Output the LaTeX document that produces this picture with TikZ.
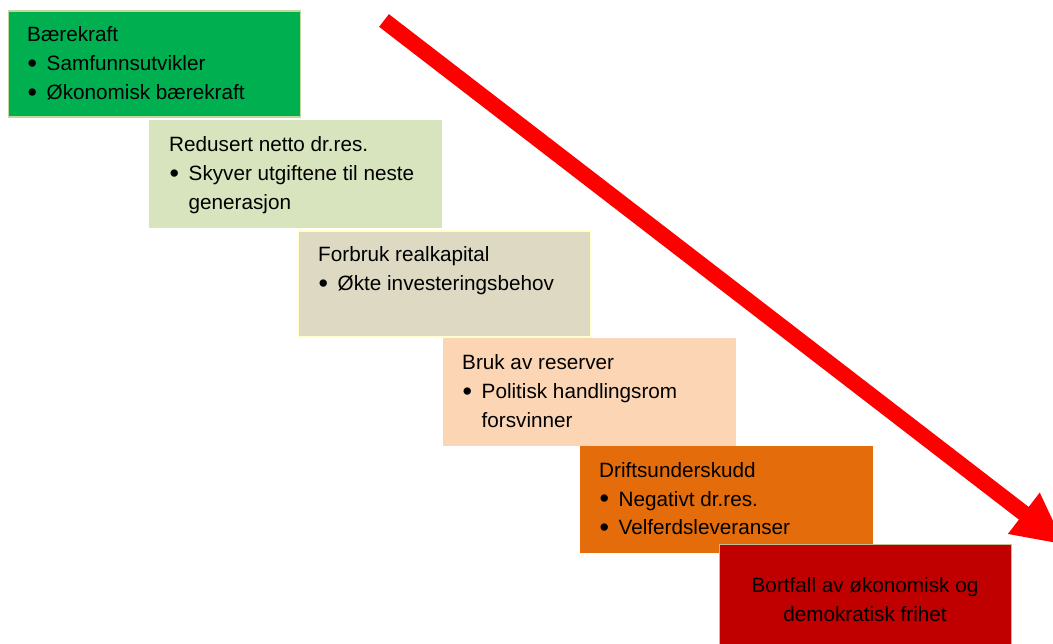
\documentclass[tikz,border=0pt]{standalone}
\usepackage{fontspec}
\setmainfont{Liberation Sans}
\usetikzlibrary{arrows.meta}
\definecolor{gA}{HTML}{00B050}
\definecolor{gAb}{HTML}{C3D69B}
\definecolor{gB}{HTML}{D7E4BD}
\definecolor{gC}{HTML}{DDD9C3}
\definecolor{gCb}{HTML}{FFFFCC}
\definecolor{gD}{HTML}{FCD5B5}
\definecolor{gE}{HTML}{E46C0A}
\definecolor{gF}{HTML}{C00000}
\definecolor{gFb}{HTML}{C4BD97}
\definecolor{arr}{HTML}{FF0000}
\newcommand{\bul}{\makebox[19.5pt][l]{\hspace{0.5pt}\raisebox{-1.8pt}{\fontsize{27}{29}\selectfont\textbullet}}}
\newcommand{\ind}{\hspace*{19.5pt}}
\begin{document}
\begin{tikzpicture}[x=1pt,y=-1pt,
  stepbox/.style={rectangle, anchor=north west, minimum width=292pt, minimum height=106pt, inner sep=0pt, line width=1.5pt},
  txt/.style={anchor=base west, inner sep=0pt, font=\fontsize{20.7}{29}\selectfont},
  ctxt/.style={anchor=base, inner sep=0pt, font=\fontsize{20.7}{29}\selectfont},
]
\useasboundingbox (0,0) rectangle (1053,644);
\clip (0,0) rectangle (1053,644);
\node[stepbox, fill=gA, draw=gAb] (b1) at (7.5,10.5) {};
\node[stepbox, fill=gB, draw=gB] (b2) at (148.5,120.5) {};
\node[stepbox, fill=gC, draw=gCb] (b3) at (297.5,230.5) {};
\node[stepbox, fill=gD, draw=gD] (b4) at (442.5,338.5) {};
\node[stepbox, fill=gE, draw=gE] (b5) at (579.5,445.5) {};
\node[stepbox, fill=gF, draw=gFb] (b6) at (718.5,543.5) {};

\node[txt] (t1) at (27,42) {\begin{tabular}[t]{@{}l@{}}Bærekraft\\ \bul Samfunnsutvikler\\ \bul Økonomisk bærekraft\end{tabular}};
\node[txt] (t2) at (169,152) {\begin{tabular}[t]{@{}l@{}}Redusert netto dr.res.\\ \bul Skyver utgiftene til neste\\ \ind generasjon\end{tabular}};
\node[txt] (t3) at (318,262) {\begin{tabular}[t]{@{}l@{}}Forbruk realkapital\\ \bul Økte investeringsbehov\end{tabular}};
\node[txt] (t4) at (462,370) {\begin{tabular}[t]{@{}l@{}}Bruk av reserver\\ \bul Politisk handlingsrom\\ \ind forsvinner\end{tabular}};
\node[txt] (t5) at (599,477) {\begin{tabular}[t]{@{}l@{}}Driftsunderskudd\\ \bul Negativt dr.res.\\ \bul Velferdsleveranser\end{tabular}};
\node[ctxt] (t6) at (865,592) {\begin{tabular}[t]{@{}c@{}}Bortfall av økonomisk og\\ demokratisk frihet\end{tabular}};

\coordinate (as) at (384,20.5);
\coordinate (ae) at (1065,545);
\draw[arr, line width=16pt, -{Triangle[length=52pt,width=48pt]}] (as) -- (ae);
\end{tikzpicture}
\end{document}
